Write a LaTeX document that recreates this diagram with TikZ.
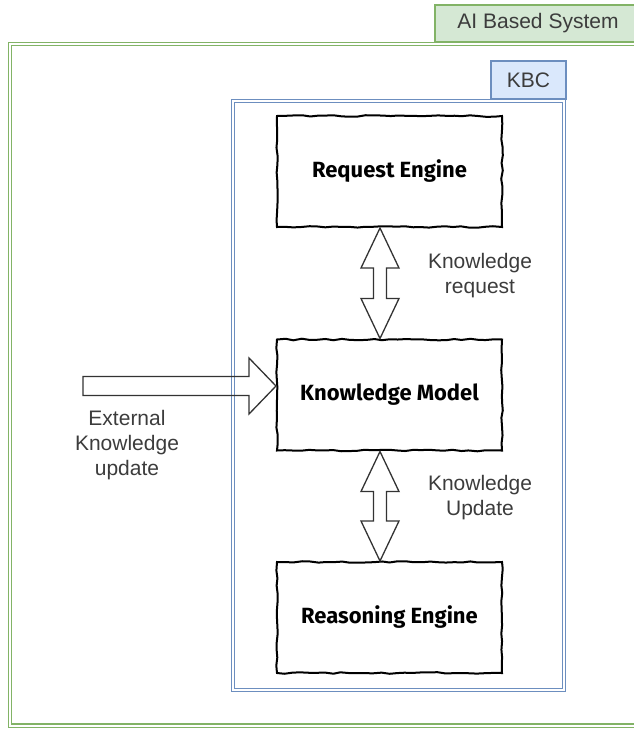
\documentclass[tikz,border=0pt]{standalone}
\usepackage{fontspec}
\setmainfont{Liberation Sans}
\newfontfamily\sketchfont{Fira Sans}
\usetikzlibrary{calc,decorations.pathmorphing}

\definecolor{aigreen}{HTML}{82B366}
\definecolor{aigreenfill}{HTML}{D5E8D4}
\definecolor{kbcblue}{HTML}{6C8EBF}
\definecolor{kbcbluefill}{HTML}{DAE8FC}
\definecolor{labelgray}{HTML}{3C3C3C}

\tikzset{
  engine/.style={draw, line width=2pt, fill=white, minimum width=225pt, minimum height=111pt,
    font=\sketchfont\bfseries\fontsize{22}{26}\selectfont,
    decorate, decoration={random steps, segment length=8pt, amplitude=0.8pt}},
  frame/.style={line width=1.4pt, double=white, double distance=2pt},
  tab/.style={draw, line width=1.2pt, inner sep=0pt, text=labelgray, font=\fontsize{21}{25}\selectfont},
  note/.style={align=center, text=labelgray, font=\fontsize{21}{25}\selectfont},
  hollow/.style={draw=black!80, line width=1.3pt, line join=miter}
}

% two-headed block arrow between two anchors (top to bottom)
\newcommand{\twoway}[2]{%
  \draw[hollow] let \p1=(#1), \p2=(#2) in
    (\x1,\y1) -- (\x1+19pt,\y1-40pt) -- (\x1+6.5pt,\y1-40pt) -- (\x1+6.5pt,\y2+40pt)
    -- (\x1+19pt,\y2+40pt) -- (\x2,\y2) -- (\x1-19pt,\y2+40pt) -- (\x1-6.5pt,\y2+40pt)
    -- (\x1-6.5pt,\y1-40pt) -- (\x1-19pt,\y1-40pt) -- cycle;}

\begin{document}
\begin{tikzpicture}[x=1pt, y=-1pt]
\useasboundingbox (0,0) rectangle (634,729);
\pgfmathsetseed{7}

% AI system container
\draw[frame, aigreen] (10,44) rectangle (660,725.5);
\node (aitab) at (538,23.5) [tab, draw=aigreen, fill=aigreenfill, minimum width=206pt, minimum height=37pt] {AI Based System};

% KBC container
\draw[frame, kbcblue] (233,101) rectangle (564,690);
\node (kbctab) at (528.5,80) [tab, draw=kbcblue, fill=kbcbluefill, minimum width=75pt, minimum height=38pt] {KBC};

% engines
\node (req) at (389.5,171.5) [engine] {Request Engine};
\node (kmodel) at (389.5,395) [engine] {Knowledge Model};
\node (reason) at (389.5,617.5) [engine] {Reasoning Engine};

% arrows
\twoway{[xshift=-9.5pt]req.south}{[xshift=-9.5pt]kmodel.north}
\twoway{[xshift=-9.5pt]kmodel.south}{[xshift=-9.5pt]reason.north}

\coordinate (extin) at (83,386);
\draw[hollow] let \p1=(extin), \p2=([yshift=9pt]kmodel.west) in
  (\x1,\y1+9.5pt) -- (\x2-27pt,\y1+9.5pt) -- (\x2-27pt,\y1+28pt) -- (\x2,\y1)
  -- (\x2-27pt,\y1-28pt) -- (\x2-27pt,\y1-9.5pt) -- (\x1,\y1-9.5pt) -- cycle;

% labels
\node (extlabel) at (127,445) [note] {External\\Knowledge\\update};
\node (reqlabel) at (480,275.5) [note] {Knowledge\\request};
\node (updlabel) at (480,497.5) [note] {Knowledge\\Update};
\end{tikzpicture}
\end{document}
